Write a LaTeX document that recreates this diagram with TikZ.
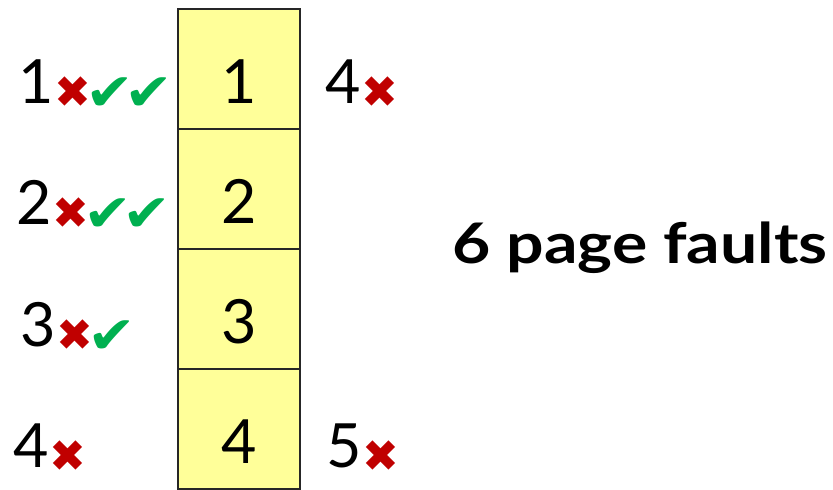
\documentclass[tikz,border=0pt]{standalone}
\usepackage{fontspec}
\setmainfont{Lato}
\newfontfamily\symfont{DejaVu Sans}
\usetikzlibrary{positioning}

\definecolor{frameyellow}{HTML}{FFFF99}
\definecolor{faultred}{HTML}{C00000}
\definecolor{hitgreen}{HTML}{00B050}
\newcommand{\miss}{\hspace{4pt}\makebox[31pt][c]{\raisebox{-4pt}{\symfont\fontsize{44}{44}\selectfont\color{faultred}✖}}}
\newcommand{\hit}{\hspace{3pt}\makebox[36pt][c]{\raisebox{-7pt}{\scalebox{1.12}[1]{\symfont\fontsize{52}{52}\selectfont\color{hitgreen}✔}}}}

\begin{document}
\begin{tikzpicture}[x=1pt,y=-1pt,
  frame/.style={draw=black!85,line width=2pt,fill=frameyellow,
    minimum width=122pt,minimum height=120pt,inner sep=0pt,outer sep=0pt,
    text height=68pt,text depth=0pt,font=\fontsize{61}{61}\selectfont},
  ref/.style={anchor=base west,inner sep=0pt,font=\fontsize{61}{61}\selectfont}]
\useasboundingbox (0,0) rectangle (833,490);
% page frames
\node[frame] (f1) at (239,69) {1};
\node[frame,below=0pt of f1] (f2) {2};
\node[frame,below=0pt of f2] (f3) {3};
\node[frame,below=0pt of f3] (f4) {4};
% references, left column
\node[ref] (r1) at (18,103) {1\miss\hit\hit};
\node[ref] (r2) at (16,224) {2\miss\hit\hit};
\node[ref] (r3) at (20,346) {3\miss\hit};
\node[ref] (r4) at (13,467) {4\miss};
% replacements, right column
\node[ref] (r5) at (325,103) {4\miss};
\node[ref] (r6) at (326,467) {5\miss};
\node[anchor=base west,inner sep=0pt,font=\bfseries\fontsize{56}{56}\selectfont]
  (faults) at (452,263) {\scalebox{1.18}[1]{6 page faults}};
\end{tikzpicture}
\end{document}
